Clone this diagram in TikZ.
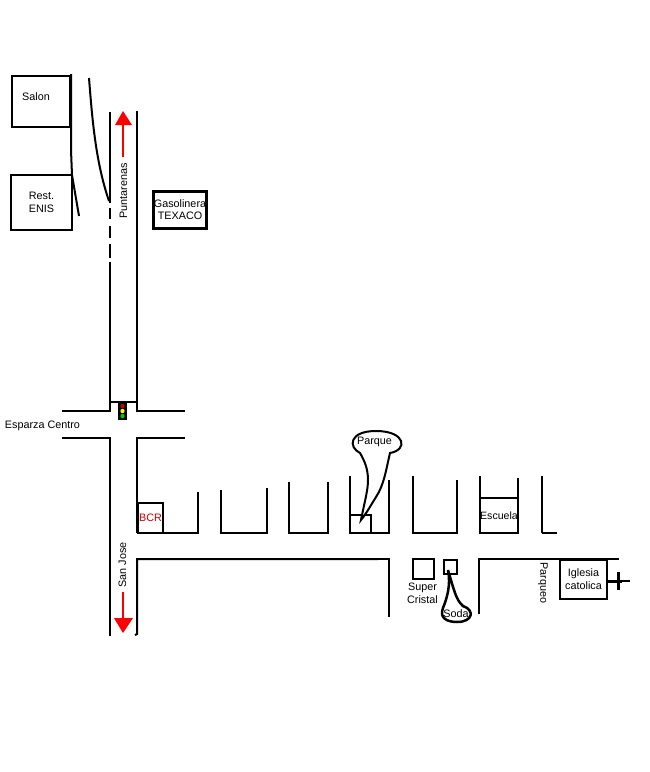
\documentclass[tikz,border=0pt]{standalone}
\usepackage{fontspec}
\setmainfont{Liberation Sans}
\tikzset{
    road/.style={line width=2pt},
    thinroad/.style={line width=1.2pt},
    building/.style={draw,line width=2pt,inner sep=0pt,align=center,font=\fontsize{10.8}{13}\selectfont},
    streetname/.style={inner sep=0pt,align=center,font=\fontsize{10.8}{13}\selectfont}
}
\begin{document}
\begin{tikzpicture}[x=1pt,y=-1pt]
    \useasboundingbox (0,0) rectangle (650,772);
    % north road
    \draw[road] (110,112) -- (110,203);
    \draw[road] (110,208) -- (110,219);
    \draw[road] (110,226) -- (110,238);
    \draw[road] (110,244) -- (110,258);
    \draw[road] (110,262) -- (110,411) -- (62,411);
    \draw[road] (137,111) -- (137,411) -- (185,411);
    \draw[road] (110,402) -- (137,402);
    \draw[road] (71,74) -- (71,150) -- (72,175) -- (79,216);
    \draw[line width=3pt] (70.5,76) -- (70.5,127);
    \draw[road] (89,78) .. controls (92,115) and (95,160) .. (109,201);
    % south road
    \draw[road] (62,438) -- (110,438) -- (110,636);
    \draw[road] (185,438) -- (137,438) -- (137,533);
    \draw[road] (135,635) -- (137,634) -- (137,559) -- (378,559);
    \draw[road] (378,559) -- (389,559) -- (389,617);
    % blocks
    \draw[thinroad] (163,533) -- (198,533) -- (198,492);
    \draw[road] (221,490) -- (221,533) -- (267,533) -- (267,488);
    \draw[road] (289,482) -- (289,533) -- (328,533) -- (328,482);
    \draw[road] (350,476) -- (350,533);
    \draw[thinroad] (350,533) -- (389,533) -- (389,480);
    \draw[road] (413,476) -- (413,533) -- (457,533) -- (457,480);
    \draw[road] (480,476) -- (480,533) -- (518,533) -- (518,478);
    \draw[road] (542,476) -- (542,533);
    \draw[thinroad] (542,533) -- (557,533);
    \draw[road] (479,614) -- (479,559) -- (619,559);
    % arrows
    \draw[red,line width=2pt] (123,157) -- (123,122);
    \fill[red] (123,111) -- (132,125) -- (115,125) -- cycle;
    \draw[red,line width=2pt] (123,592) -- (123,621);
    \fill[red] (123,633) -- (114,618) -- (133,618) -- cycle;
    % traffic light
    \fill (118,402) rectangle (127,420);
    \fill[red!80!black] (122.5,406) circle (2.2);
    \fill[yellow] (122.5,411) circle (2.2);
    \fill[green!80!black] (122.5,416) circle (2.2);
    % buildings
    \node[building,minimum width=58,minimum height=51] (salon) at (41,101.5) {\raisebox{10pt}{Salon\hspace*{10pt}}};
    \node[building,minimum width=61,minimum height=55] (enis) at (41.5,202.5) {Rest.\\ENIS};
    \node[building,line width=3pt,minimum width=52,minimum height=37] (texaco) at (180,210) {\raisebox{-1pt}{Gasolinera}\\TEXACO};
    \node[building,line width=2.5pt,text=red!80!black,minimum width=25,minimum height=30] (bcr) at (150.5,518) {\raisebox{1pt}{BCR}};
    \node[building,minimum width=21,minimum height=18] (parkbox) at (360.5,524) {};
    \node[building,minimum width=38,minimum height=35,font=\fontsize{10.6}{12}\selectfont] (escuela) at (499,515.5) {Escuela};
    \node[building,minimum width=21,minimum height=20] (superbox) at (423.5,569) {};
    \node[building,minimum width=13,minimum height=14] (sodabox) at (450.5,567) {};
    \node[building,minimum width=47,minimum height=39] (iglesia) at (583.5,579.5) {Iglesia\\catolica};
    % cross
    \draw[line width=3pt] (607,581) -- (622,581);
    \draw[line width=1.5pt] (622,581) -- (630,581);
    \draw[line width=3pt] (618,572) -- (618,590);
    % callouts
    \draw[road,fill=white] (361,520) .. controls (365,500) and (368,490) .. (368,480)
        .. controls (368,468) and (364,460) .. (360,453)
        .. controls (348,447) and (349,431) .. (376,431)
        .. controls (406,431) and (408,450) .. (390,453)
        .. controls (386,470) and (384,485) .. (376,497)
        .. controls (371,505) and (366,514) .. (361,520) -- cycle;
    \draw[line width=2.5pt,fill=white] (448,570) .. controls (451,585) and (447,598) .. (443,608)
        .. controls (439,618) and (447,622) .. (457,622)
        .. controls (473,622) and (475,610) .. (463,606)
        .. controls (456,600) and (454,590) .. (448,570) -- cycle;
    % labels
    \node[streetname] (parque) at (374.5,442) {Parque};
    \node[streetname] (soda) at (456,614) {Soda};
    \node[streetname] (supercristal) at (422.5,593.5) {Super\\Cristal};
    \node[streetname] (esparza) at (42.5,426) {Esparza Centro};
    \node[streetname,rotate=90] (puntarenas) at (123.5,191) {Puntarenas};
    \node[streetname,rotate=90] (sanjose) at (122.5,565) {San Jose};
    \node[streetname,rotate=-90] (parqueo) at (543,583) {Parqueo};
\end{tikzpicture}
\end{document}
